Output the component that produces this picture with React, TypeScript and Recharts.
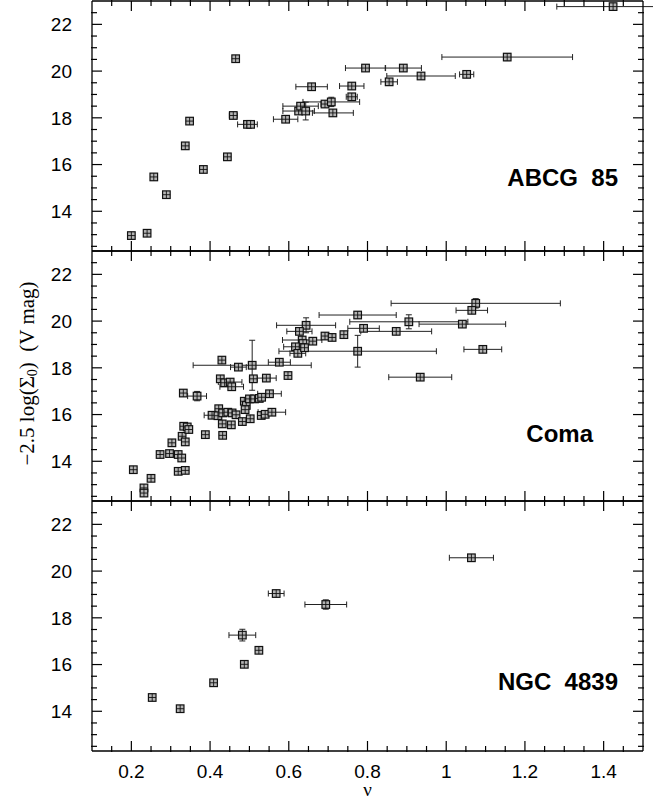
import React from "react";
import { ScatterChart, Scatter, XAxis, YAxis, ErrorBar } from "recharts";

// tick positions
const xMajor = [0.2, 0.4, 0.6, 0.8, 1, 1.2, 1.4];
const xMinor = [0.15, 0.25, 0.3, 0.35, 0.45, 0.5, 0.55, 0.65, 0.7, 0.75, 0.85, 0.9, 0.95, 1.05, 1.1, 1.15, 1.25, 1.3, 1.35, 1.45];
const yMajor = [14, 16, 18, 20, 22];
const yMinor = [12.5, 13, 13.5, 14.5, 15, 15.5, 16.5, 17, 17.5, 18.5, 19, 19.5, 20.5, 21, 21.5, 22.5];

// ABCG 85
const abcgNu = [0.2, 0.24, 0.257, 0.289, 0.337, 0.348, 0.383, 0.444, 0.459, 0.465, 0.495, 0.503, 0.592, 0.625, 0.63, 0.643, 0.658, 0.692, 0.708, 0.712, 0.76, 0.76, 0.795, 0.891, 0.936, 0.855, 1.052, 1.155, 1.424];
const abcgMag = [12.96, 13.06, 15.47, 14.71, 16.8, 17.86, 15.79, 16.33, 18.1, 20.53, 17.72, 17.72, 17.94, 18.29, 18.5, 18.29, 19.33, 18.59, 18.68, 18.21, 19.36, 18.9, 20.13, 20.13, 19.79, 19.54, 19.86, 20.6, 22.76];
const abcgNuErr = [0, 0, 0, 0, 0, 0, 0, 0, 0.01, 0, 0.025, 0.01, 0.031, 0.04, 0.045, 0, 0.04, 0.01, 0.072, 0.052, 0.031, 0.014, 0.051, 0.046, 0.087, 0.021, 0.018, 0.166, 0.143];
const abcgMagErr = [0, 0, 0, 0, 0, 0, 0, 0, 0, 0, 0, 0, 0, 0, 0.1, 0.38, 0.1, 0, 0.2, 0, 0, 0, 0, 0, 0.1, 0, 0, 0.15, 0];

// Coma
const comaNu = [0.205, 0.25, 0.232, 0.232, 0.273, 0.297, 0.319, 0.328, 0.319, 0.337, 0.303, 0.329, 0.337, 0.333, 0.342, 0.346, 0.388, 0.432, 0.332, 0.367, 0.43, 0.426, 0.437, 0.472, 0.507, 0.576, 0.598, 0.451, 0.455, 0.51, 0.543, 0.551, 0.487, 0.492, 0.5, 0.513, 0.525, 0.531, 0.489, 0.422, 0.405, 0.42, 0.432, 0.445, 0.456, 0.466, 0.431, 0.454, 0.482, 0.502, 0.53, 0.54, 0.557, 0.644, 0.775, 0.627, 0.634, 0.636, 0.617, 0.623, 0.64, 0.661, 0.692, 0.71, 0.74, 0.79, 0.873, 0.775, 0.905, 1.075, 1.065, 1.041, 1.093, 0.934];
const comaMag = [13.64, 13.27, 12.86, 12.64, 14.29, 14.33, 14.29, 14.14, 13.57, 13.61, 14.79, 15.07, 14.83, 15.5, 15.47, 15.36, 15.14, 15.11, 16.92, 16.79, 18.33, 17.53, 17.36, 18.03, 18.11, 18.24, 17.67, 17.39, 17.19, 17.53, 17.56, 16.89, 16.57, 16.39, 16.67, 16.67, 16.69, 16.74, 16.21, 16.25, 15.97, 15.95, 16.07, 16.1, 16.07, 15.99, 15.6, 15.56, 15.7, 15.82, 15.96, 16.01, 16.1, 19.82, 20.26, 19.56, 19.19, 19.04, 18.9, 18.62, 18.86, 19.14, 19.36, 19.3, 19.42, 19.69, 19.56, 18.71, 19.97, 20.76, 20.46, 19.87, 18.79, 17.6];
const comaNuErr = [0, 0, 0, 0, 0, 0, 0, 0, 0, 0, 0, 0, 0, 0, 0, 0, 0, 0, 0, 0.024, 0, 0, 0, 0.02, 0.15, 0.028, 0, 0.03, 0.03, 0.01, 0.025, 0.03, 0, 0, 0, 0, 0, 0, 0, 0, 0.02, 0, 0, 0, 0, 0, 0, 0, 0, 0, 0, 0, 0.035, 0.075, 0.098, 0.032, 0.05, 0, 0.03, 0.02, 0, 0, 0, 0, 0, 0.04, 0.09, 0.2, 0.15, 0.215, 0.04, 0.11, 0.048, 0.08];
const comaMagErr = [0, 0, 0, 0, 0, 0, 0, 0, 0, 0, 0, 0, 0, 0, 0, 0, 0, 0, 0, 0.2, 0, 0, 0, 0, 1.07, 0, 0, 0, 0, 0, 0, 0, 0, 0, 0, 0, 0, 0, 0, 0, 0, 0, 0, 0, 0, 0, 0, 0, 0, 0, 0, 0, 0, 0.32, 0.15, 0, 0, 0, 0, 0, 0, 0, 0, 0, 0, 0, 0, 0.68, 0.3, 0.2, 0, 0, 0, 0];

// NGC 4839
const ngcNu = [0.253, 0.324, 0.409, 0.487, 0.524, 0.482, 0.568, 0.694, 1.064];
const ngcMag = [14.59, 14.11, 15.22, 16.01, 16.61, 17.26, 19.04, 18.57, 20.57];
const ngcNuErr = [0, 0, 0, 0, 0, 0.034, 0.02, 0.053, 0.056];
const ngcMagErr = [0, 0, 0, 0, 0, 0.25, 0, 0.2, 0];

const toPoints = (nu: number[], mag: number[], nuErr: number[], magErr: number[]) =>
    nu.map((x, i) => ({ x, y: mag[i], ex: nuErr[i], ey: magErr[i] }));

const SANS = "'Liberation Sans', Arial, Helvetica, sans-serif";
const SERIF = "'Liberation Serif', 'Times New Roman', serif";
const X_DOMAIN: [number, number] = [0.1, 1.5];
const Y_DOMAIN: [number, number] = [12.3, 23];

const Marker = (props: any) => {
    const { cx, cy } = props;
    if (cx == null || cy == null) return null;
    const h = 3.8;
    return (
        <g>
            <rect x={cx - h} y={cy - h} width={h * 2} height={h * 2} fill="#b4b4b4" stroke="#111" strokeWidth={1.2} />
            <line x1={cx - h} x2={cx + h} y1={cy} y2={cy} stroke="#111" strokeWidth={0.9} />
            <line x1={cx} x2={cx} y1={cy - h} y2={cy + h} stroke="#111" strokeWidth={0.9} />
        </g>
    );
};

// invisible series, only there so the extra tick axes get ticks
const NoShape = () => <g />;

const PanelName = ({ viewBox, text, right, base }: any) => (
    <text
        x={viewBox.x - right}
        y={viewBox.y + base}
        textAnchor="end"
        fontFamily={SANS}
        fontWeight="bold"
        fontSize={24}
        fill="#000"
        style={{ whiteSpace: "pre" }}
    >
        {text}
    </text>
);

const YTitle = ({ viewBox }: any) => {
    const cy = viewBox.y + viewBox.height / 2 - 2.5;
    return (
        <text
            transform={`translate(27,${cy}) rotate(-90)`}
            textAnchor="middle"
            dominantBaseline="central"
            fontFamily={SERIF}
            fontSize={21}
            fill="#000"
            style={{ whiteSpace: "pre" }}
        >
            −2.5 log(Σ<tspan dy={5} fontSize={14}>0</tspan>
            <tspan dy={-5}>)  (V mag)</tspan>
        </text>
    );
};

const XTitle = ({ viewBox }: any) => (
    <text x={viewBox.x + viewBox.width / 2} y={viewBox.y + 45} textAnchor="middle" fontFamily={SERIF} fontSize={19} fill="#000">
        ν
    </text>
);

const frame = { stroke: "#000", strokeWidth: 1.3 };
const tickLine = { stroke: "#000", strokeWidth: 1.2 };
const tickFont = { fontSize: 19, fill: "#000", fontFamily: SANS };
const blank = () => "";

// shared props: inward ticks via negative tickSize, axes 1px thick
const common = {
    type: "number" as const,
    allowDataOverflow: true,
    interval: 0 as const,
    tickLine,
};

interface PanelProps {
    data: { x: number; y: number; ex: number; ey: number }[];
    name: string;
    nameRight: number;
    nameBase: number;
    height: number;
    bottomLabels?: boolean;
    yTitle?: boolean;
}

const Panel = ({ data, name, nameRight, nameBase, height, bottomLabels, yTitle }: PanelProps) => (
    <ScatterChart width={653} height={height} margin={{ top: 0, right: 8, bottom: height - 254, left: 90 }}>
        {/* bottom */}
        <XAxis
            {...common}
            xAxisId="b"
            dataKey="x"
            domain={X_DOMAIN}
            ticks={xMajor}
            height={1}
            tickSize={-10}
            tickMargin={23.5}
            axisLine={frame}
            tick={tickFont}
            tickFormatter={bottomLabels ? (v: number) => String(v) : blank}
            label={bottomLabels ? <XTitle /> : undefined}
        />
        <XAxis {...common} xAxisId="bm" dataKey="x" domain={X_DOMAIN} ticks={xMinor} height={1} tickSize={-6} axisLine={false} tickFormatter={blank} />
        {/* top */}
        <XAxis {...common} xAxisId="t" dataKey="x" orientation="top" domain={X_DOMAIN} ticks={xMajor} height={1} tickSize={-10} axisLine={frame} tickFormatter={blank} />
        <XAxis {...common} xAxisId="tm" dataKey="x" orientation="top" domain={X_DOMAIN} ticks={xMinor} height={1} tickSize={-6} axisLine={false} tickFormatter={blank} />
        {/* left */}
        <YAxis
            {...common}
            yAxisId="l"
            dataKey="y"
            domain={Y_DOMAIN}
            ticks={yMajor}
            width={1}
            tickSize={-10}
            tickMargin={30}
            axisLine={frame}
            tick={tickFont}
            label={yTitle ? <YTitle /> : undefined}
        />
        <YAxis {...common} yAxisId="lm" dataKey="y" domain={Y_DOMAIN} ticks={yMinor} width={1} tickSize={-6} axisLine={false} tickFormatter={blank} />
        {/* right */}
        <YAxis
            {...common}
            yAxisId="r"
            dataKey="y"
            orientation="right"
            domain={Y_DOMAIN}
            ticks={yMajor}
            width={1}
            tickSize={-10}
            axisLine={frame}
            tickFormatter={blank}
            label={<PanelName text={name} right={nameRight} base={nameBase} />}
        />
        <YAxis {...common} yAxisId="rm" dataKey="y" orientation="right" domain={Y_DOMAIN} ticks={yMinor} width={1} tickSize={-6} axisLine={false} tickFormatter={blank} />

        <Scatter xAxisId="t" yAxisId="r" data={data} shape={<NoShape />} isAnimationActive={false} />
        <Scatter xAxisId="bm" yAxisId="lm" data={data} shape={<NoShape />} isAnimationActive={false} />
        <Scatter xAxisId="tm" yAxisId="rm" data={data} shape={<NoShape />} isAnimationActive={false} />
        <Scatter xAxisId="b" yAxisId="l" data={data} shape={<Marker />} isAnimationActive={false}>
            <ErrorBar dataKey="ex" direction="x" width={3} stroke="#222" strokeWidth={1} />
            <ErrorBar dataKey="ey" direction="y" width={3} stroke="#222" strokeWidth={1} />
        </Scatter>
    </ScatterChart>
);

export default function App() {
    return (
        <div style={{ position: "absolute", left: 0, top: 0, width: 653, height: 800, background: "#fff", overflow: "hidden" }}>
            <div style={{ position: "absolute", left: 0, top: -1 }}>
                <Panel data={toPoints(abcgNu, abcgMag, abcgNuErr, abcgMagErr)} name="ABCG  85" nameRight={25} nameBase={185} height={254} />
            </div>
            <div style={{ position: "absolute", left: 0, top: 249 }}>
                <Panel data={toPoints(comaNu, comaMag, comaNuErr, comaMagErr)} name="Coma" nameRight={50} nameBase={191} height={254} yTitle />
            </div>
            <div style={{ position: "absolute", left: 0, top: 499 }}>
                <Panel data={toPoints(ngcNu, ngcMag, ngcNuErr, ngcMagErr)} name="NGC  4839" nameRight={25} nameBase={189} height={301} bottomLabels />
            </div>
        </div>
    );
}
